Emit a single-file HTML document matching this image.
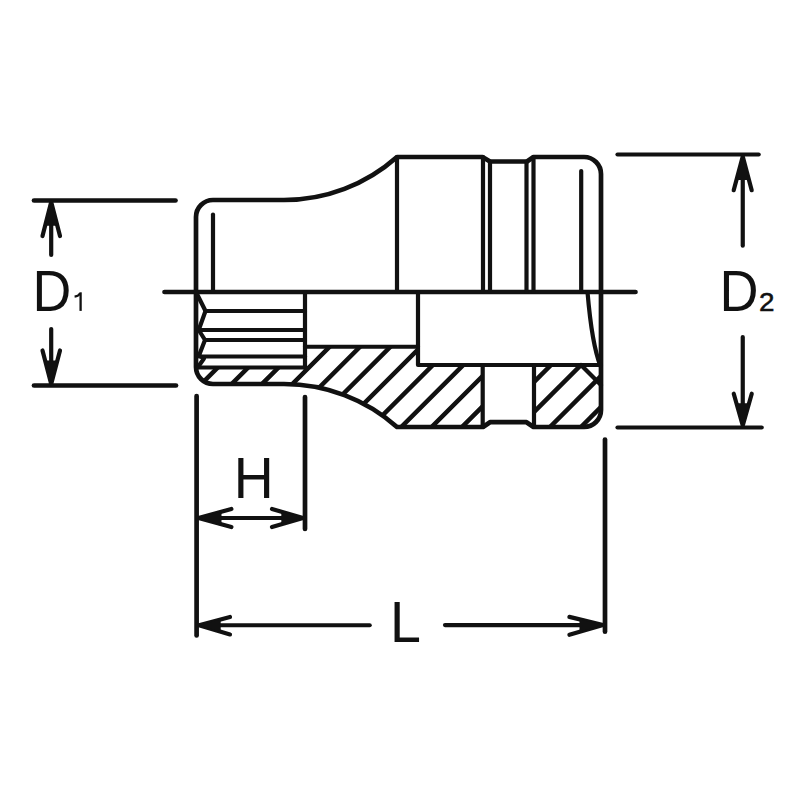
<!DOCTYPE html>
<html><head><meta charset="utf-8"><title>Socket drawing</title>
<style>
html,body{margin:0;padding:0;background:#fff;width:800px;height:800px;overflow:hidden;}
svg{display:block;}
text{font-family:"Liberation Sans",sans-serif;fill:#111;}
</style></head><body>
<svg width="800" height="800" viewBox="0 0 800 800">
<defs>
<clipPath id="cl"><path d="M196,367.5 L305,367.5 L305,346.75 L418,346.75 L418,365 L482.5,365 L482.5,427 L397,427
A170,170 0 0 0 284,384 L213,384 A17,17 0 0 1 196,367 Z"/></clipPath>
<clipPath id="cr"><path d="M534,365 L601,365 L601,410 A17,17 0 0 1 584,427 L534,427 Z"/></clipPath>
</defs>
<rect width="800" height="800" fill="#fff"/>
<g fill="none" stroke="#111" stroke-width="4.7" stroke-linecap="round" stroke-linejoin="round">
<!-- dimension lines -->
<line x1="34" y1="200.5" x2="175.5" y2="200.5"/>
<line x1="34" y1="385.5" x2="176" y2="385.5"/>
<g stroke-width="4.2">
<line x1="51.2" y1="210" x2="51.2" y2="255"/>
<line x1="51.2" y1="329" x2="51.2" y2="375"/>
<line x1="617.5" y1="154.5" x2="758.7" y2="154.5"/>
<line x1="617.5" y1="427.5" x2="761.7" y2="427.5"/>
<line x1="742.75" y1="165" x2="742.75" y2="245.7"/>
<line x1="742.75" y1="337" x2="742.75" y2="417"/>
<line x1="205" y1="518" x2="298" y2="518"/>
<line x1="205" y1="625.25" x2="369.7" y2="625.25"/>
<line x1="445" y1="625.1" x2="598" y2="625.1"/>
<polyline points="42.5,236 51.2,202 60,236"/>
<polyline points="42.5,350.5 51.2,384 60,350.5"/>
<polyline points="733.7,190.2 742.75,156.5 751.7,190.2"/>
<polyline points="733.75,393.75 742.75,425.5 751.75,393.75"/>
<polyline points="231.4,509 198.5,518 231.4,527"/>
<polyline points="272,509 303,518 272,527"/>
<polyline points="230,617 199,625.25 230,634.4"/>
<polyline points="569.4,616.9 603,625 569.4,634.75"/>
</g>
<line x1="196.6" y1="396" x2="196.6" y2="635.5"/>
<line x1="305" y1="397" x2="305" y2="529"/>
<line x1="605" y1="439.5" x2="605" y2="631.7"/>
<!-- body -->
<path d="M196,350 L196,217 A17,17 0 0 1 213,200 L284,200 A170,170 0 0 0 397,157
L482.5,157 L490,161.5 L527,161.5 L533.5,157 L584,157 A17,17 0 0 1 601,174
L601,410 A17,17 0 0 1 584,427 L533.5,427 L526.5,422.2 L490,422.2 L483,427 L397,427
A170,170 0 0 0 284,384 L213,384 A17,17 0 0 1 196,367 Z"/>
<line x1="164.5" y1="292" x2="635.5" y2="292"/>
<g stroke-width="4.2">
<line x1="213" y1="214.5" x2="213" y2="292"/>
<line x1="397" y1="157" x2="397" y2="292"/>
<line x1="483" y1="157" x2="483" y2="292"/>
<line x1="490" y1="161.5" x2="490" y2="292"/>
<line x1="526.5" y1="161.5" x2="526.5" y2="292"/>
<line x1="533.5" y1="157" x2="533.5" y2="292"/>
<line x1="581.2" y1="171" x2="581.2" y2="292"/>
<polyline points="418,292 418,365 601,365"/>
<path d="M587.5,292 Q592,345 600.5,366"/>
<polyline points="305,346.75 418,346.75"/>
<line x1="305" y1="292" x2="305" y2="368"/>
<polyline points="196,292 205.5,311 198.7,330 205,340 199,355.5 204,358.5 198,367"/>
<line x1="205.5" y1="311" x2="305" y2="311"/>
<line x1="198.7" y1="330" x2="305" y2="330"/>
<line x1="205" y1="340" x2="305" y2="340"/>
<line x1="199" y1="356.5" x2="305" y2="356.5"/>
<line x1="197" y1="367.5" x2="305" y2="367.5"/>
<line x1="482.7" y1="365" x2="482.7" y2="427"/>
<line x1="534" y1="365" x2="534" y2="427"/>
<line x1="581" y1="365" x2="601" y2="385"/>
</g>
<g stroke-width="4.5">
<g clip-path="url(#cl)">
<line x1="150" y1="435.30" x2="650" y2="-64.70"/>
<line x1="150" y1="465.67" x2="650" y2="-34.33"/>
<line x1="150" y1="496.04" x2="650" y2="-3.96"/>
<line x1="150" y1="526.41" x2="650" y2="26.41"/>
<line x1="150" y1="556.78" x2="650" y2="56.78"/>
<line x1="150" y1="587.15" x2="650" y2="87.15"/>
<line x1="150" y1="617.52" x2="650" y2="117.52"/>
<line x1="150" y1="647.89" x2="650" y2="147.89"/>
<line x1="150" y1="678.26" x2="650" y2="178.26"/>
<line x1="150" y1="708.63" x2="650" y2="208.63"/>
<line x1="150" y1="739.00" x2="650" y2="239.00"/>
</g>
<g clip-path="url(#cr)">
<line x1="150" y1="766.00" x2="650" y2="266.00"/>
<line x1="150" y1="796.00" x2="650" y2="296.00"/>
<line x1="150" y1="827.00" x2="650" y2="327.00"/>
<line x1="150" y1="858.00" x2="650" y2="358.00"/>
</g>
</g>
</g>
<g fill="#111" stroke="none">
<polygon points="51.2,202 45.11,225.80 57.36,225.80"/>
<polygon points="51.2,384 45.11,360.55 57.36,360.55"/>
<polygon points="742.75,156.5 736.42,180.09 749.01,180.09"/>
<polygon points="742.75,425.5 736.45,403.27 749.05,403.27"/>
<polygon points="198.5,518 221.53,511.70 221.53,524.30"/>
<polygon points="303,518 281.30,511.70 281.30,524.30"/>
<polygon points="199,625.25 220.70,619.48 220.70,631.65"/>
<polygon points="603,625 579.48,619.33 579.48,631.83"/>
</g>
<text transform="translate(32.40,310.90) scale(0.9328,1)" font-size="57.56">D</text>
<text transform="translate(719.57,310.90) scale(0.9387,1)" font-size="57.56">D</text>
<text transform="translate(759.05,310.65) scale(1.0579,1)" font-size="26.35" stroke="#111" stroke-width="0.5">2</text>
<text transform="translate(233.76,498.30) scale(0.9635,1)" font-size="57.41">H</text>
<text transform="translate(389.94,641.50) scale(0.9678,1)" font-size="57.41">L</text>
<g fill="none" stroke="#111" stroke-width="2.3" stroke-linecap="butt">
<line x1="80.6" y1="292.3" x2="80.6" y2="310.9"/>
<path d="M80.2,293.2 Q78.5,296.2 74.6,296.7"/>
</g>
</svg>
</body></html>
